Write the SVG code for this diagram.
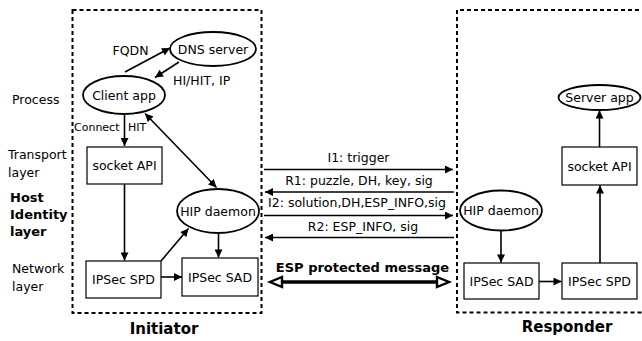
<svg xmlns="http://www.w3.org/2000/svg" width="642" height="341" viewBox="0 0 642 341">
<style>
text{font-family:"DejaVu Sans","Liberation Sans",sans-serif;font-size:12.5px;fill:#000}
.b{font-weight:bold;font-size:13px}
.t{font-weight:bold;font-size:15px}
.s{font-size:11px}
.m{text-anchor:middle}
.frame{fill:none;stroke:#000;stroke-width:2;stroke-dasharray:4 3}
.box{fill:#fff;stroke:#000;stroke-width:1.2}
.ell{fill:#fff;stroke:#000;stroke-width:1.8}
.c{fill:none;stroke:#000;stroke-width:1.6}
.arr{marker-end:url(#ah)}
.both{marker-start:url(#ah);marker-end:url(#ah)}
.esp{fill:none;stroke:#000;stroke-width:3.5;marker-start:url(#hol);marker-end:url(#hol)}
</style>
<defs>
<marker id="ah" viewBox="0 0 10 10" refX="10" refY="5" markerWidth="9" markerHeight="8" markerUnits="userSpaceOnUse" orient="auto-start-reverse">
<path d="M0,0 L10,5 L0,10 z" fill="#000"/>
</marker>
<marker id="hol" viewBox="0 0 14 12" refX="1" refY="6" markerWidth="14" markerHeight="12" markerUnits="userSpaceOnUse" orient="auto-start-reverse" overflow="visible">
<path d="M1,1 L13,6 L1,11 z" fill="#fff" stroke="#000" stroke-width="2.4"/>
</marker>
</defs>
<rect width="642" height="341" fill="#fff"/>

<g id="layers">
<text x="12" y="104">Process</text>
<text x="8" y="159">Transport</text>
<text x="8" y="177">layer</text>
<text class="b" x="10" y="202">Host</text>
<text class="b" x="10" y="219">Identity</text>
<text class="b" x="10" y="236">layer</text>
<text x="12" y="273">Network</text>
<text x="12" y="291">layer</text>
</g>

<g id="initiator">
<rect class="frame" x="72.5" y="10" width="189" height="303"/>
<text class="t m" x="164" y="334">Initiator</text>
</g>
<g id="responder">
<path class="frame" d="M660,10 H457 V312.5 H660"/>
<text class="t m" x="567" y="332">Responder</text>
</g>

<g id="connectors">
<line class="c arr" x1="125" y1="72" x2="170" y2="48"/>
<line class="c arr" x1="179" y1="62" x2="155" y2="77.5"/>
<line class="c arr" x1="124.5" y1="114" x2="124.5" y2="146"/>
<line class="c both" x1="145" y1="113.5" x2="216.5" y2="187.5"/>
<line class="c arr" x1="124.5" y1="184" x2="124.5" y2="260.5"/>
<line class="c arr" x1="161" y1="261" x2="188.5" y2="228.5"/>
<line class="c arr" x1="218.5" y1="233" x2="218.5" y2="257.5"/>
<line class="c arr" x1="161" y1="277" x2="182" y2="277"/>
<line class="c arr" x1="264" y1="169.5" x2="453" y2="169.5"/>
<line class="c arr" x1="454" y1="192" x2="265" y2="192"/>
<line class="c arr" x1="264" y1="215.5" x2="453" y2="215.5"/>
<line class="c arr" x1="454" y1="237.5" x2="265" y2="237.5"/>
<line class="esp" x1="282" y1="282" x2="437" y2="282"/>
<line class="c arr" x1="501" y1="231" x2="501" y2="262.5"/>
<line class="c arr" x1="539" y1="281.5" x2="561.5" y2="281.5"/>
<line class="c arr" x1="600" y1="263" x2="600" y2="185.5"/>
<line class="c arr" x1="599.5" y1="147" x2="599.5" y2="110.5"/>
<text class="m" x="130.5" y="55">FQDN</text>
<text x="173" y="85">HI/HIT, IP</text>
<text class="s" x="74" y="131">Connect</text>
<text class="s" x="128" y="131">HIT</text>
<text class="m" x="358.5" y="161.5">I1: trigger</text>
<text class="m" x="359" y="185">R1: puzzle, DH, key, sig</text>
<text class="m" x="357" y="207">I2: solution,DH,ESP_INFO,sig</text>
<text class="m" x="363" y="230.5">R2: ESP_INFO, sig</text>
<text class="b m" x="362.5" y="271.5">ESP protected message</text>
</g>

<g id="dns-server">
<ellipse class="ell" cx="213" cy="49" rx="43" ry="17"/>
<text class="m" x="213" y="53.5">DNS server</text>
</g>
<g id="client-app">
<ellipse class="ell" cx="124" cy="95" rx="41" ry="19"/>
<text class="m" x="124" y="99.5">Client app</text>
</g>
<g id="socket-api-i">
<rect class="box" x="87" y="147" width="75" height="37"/>
<text class="m" x="124.5" y="170">socket API</text>
</g>
<g id="hip-daemon-i">
<ellipse class="ell" cx="218" cy="211" rx="41" ry="22"/>
<text class="m" x="218" y="215.5">HIP daemon</text>
</g>
<g id="ipsec-spd-i">
<rect class="box" x="86" y="261" width="75" height="37"/>
<text class="m" x="123.5" y="284">IPSec SPD</text>
</g>
<g id="ipsec-sad-i">
<rect class="box" x="182" y="258" width="76" height="38"/>
<text class="m" x="220" y="281.5">IPSec SAD</text>
</g>

<g id="server-app">
<ellipse class="ell" cx="599.5" cy="97.5" rx="41" ry="12.5"/>
<text class="m" x="599.5" y="102">Server app</text>
</g>
<g id="socket-api-r">
<rect class="box" x="562" y="147" width="75" height="38"/>
<text class="m" x="599.5" y="170.5">socket API</text>
</g>
<g id="hip-daemon-r">
<ellipse class="ell" cx="501" cy="210.5" rx="41" ry="20"/>
<text class="m" x="501" y="215">HIP daemon</text>
</g>
<g id="ipsec-sad-r">
<rect class="box" x="464" y="263" width="75" height="36"/>
<text class="m" x="501.5" y="285.5">IPSec SAD</text>
</g>
<g id="ipsec-spd-r">
<rect class="box" x="562" y="263" width="75" height="36"/>
<text class="m" x="599.5" y="285.5">IPSec SPD</text>
</g>
</svg>
